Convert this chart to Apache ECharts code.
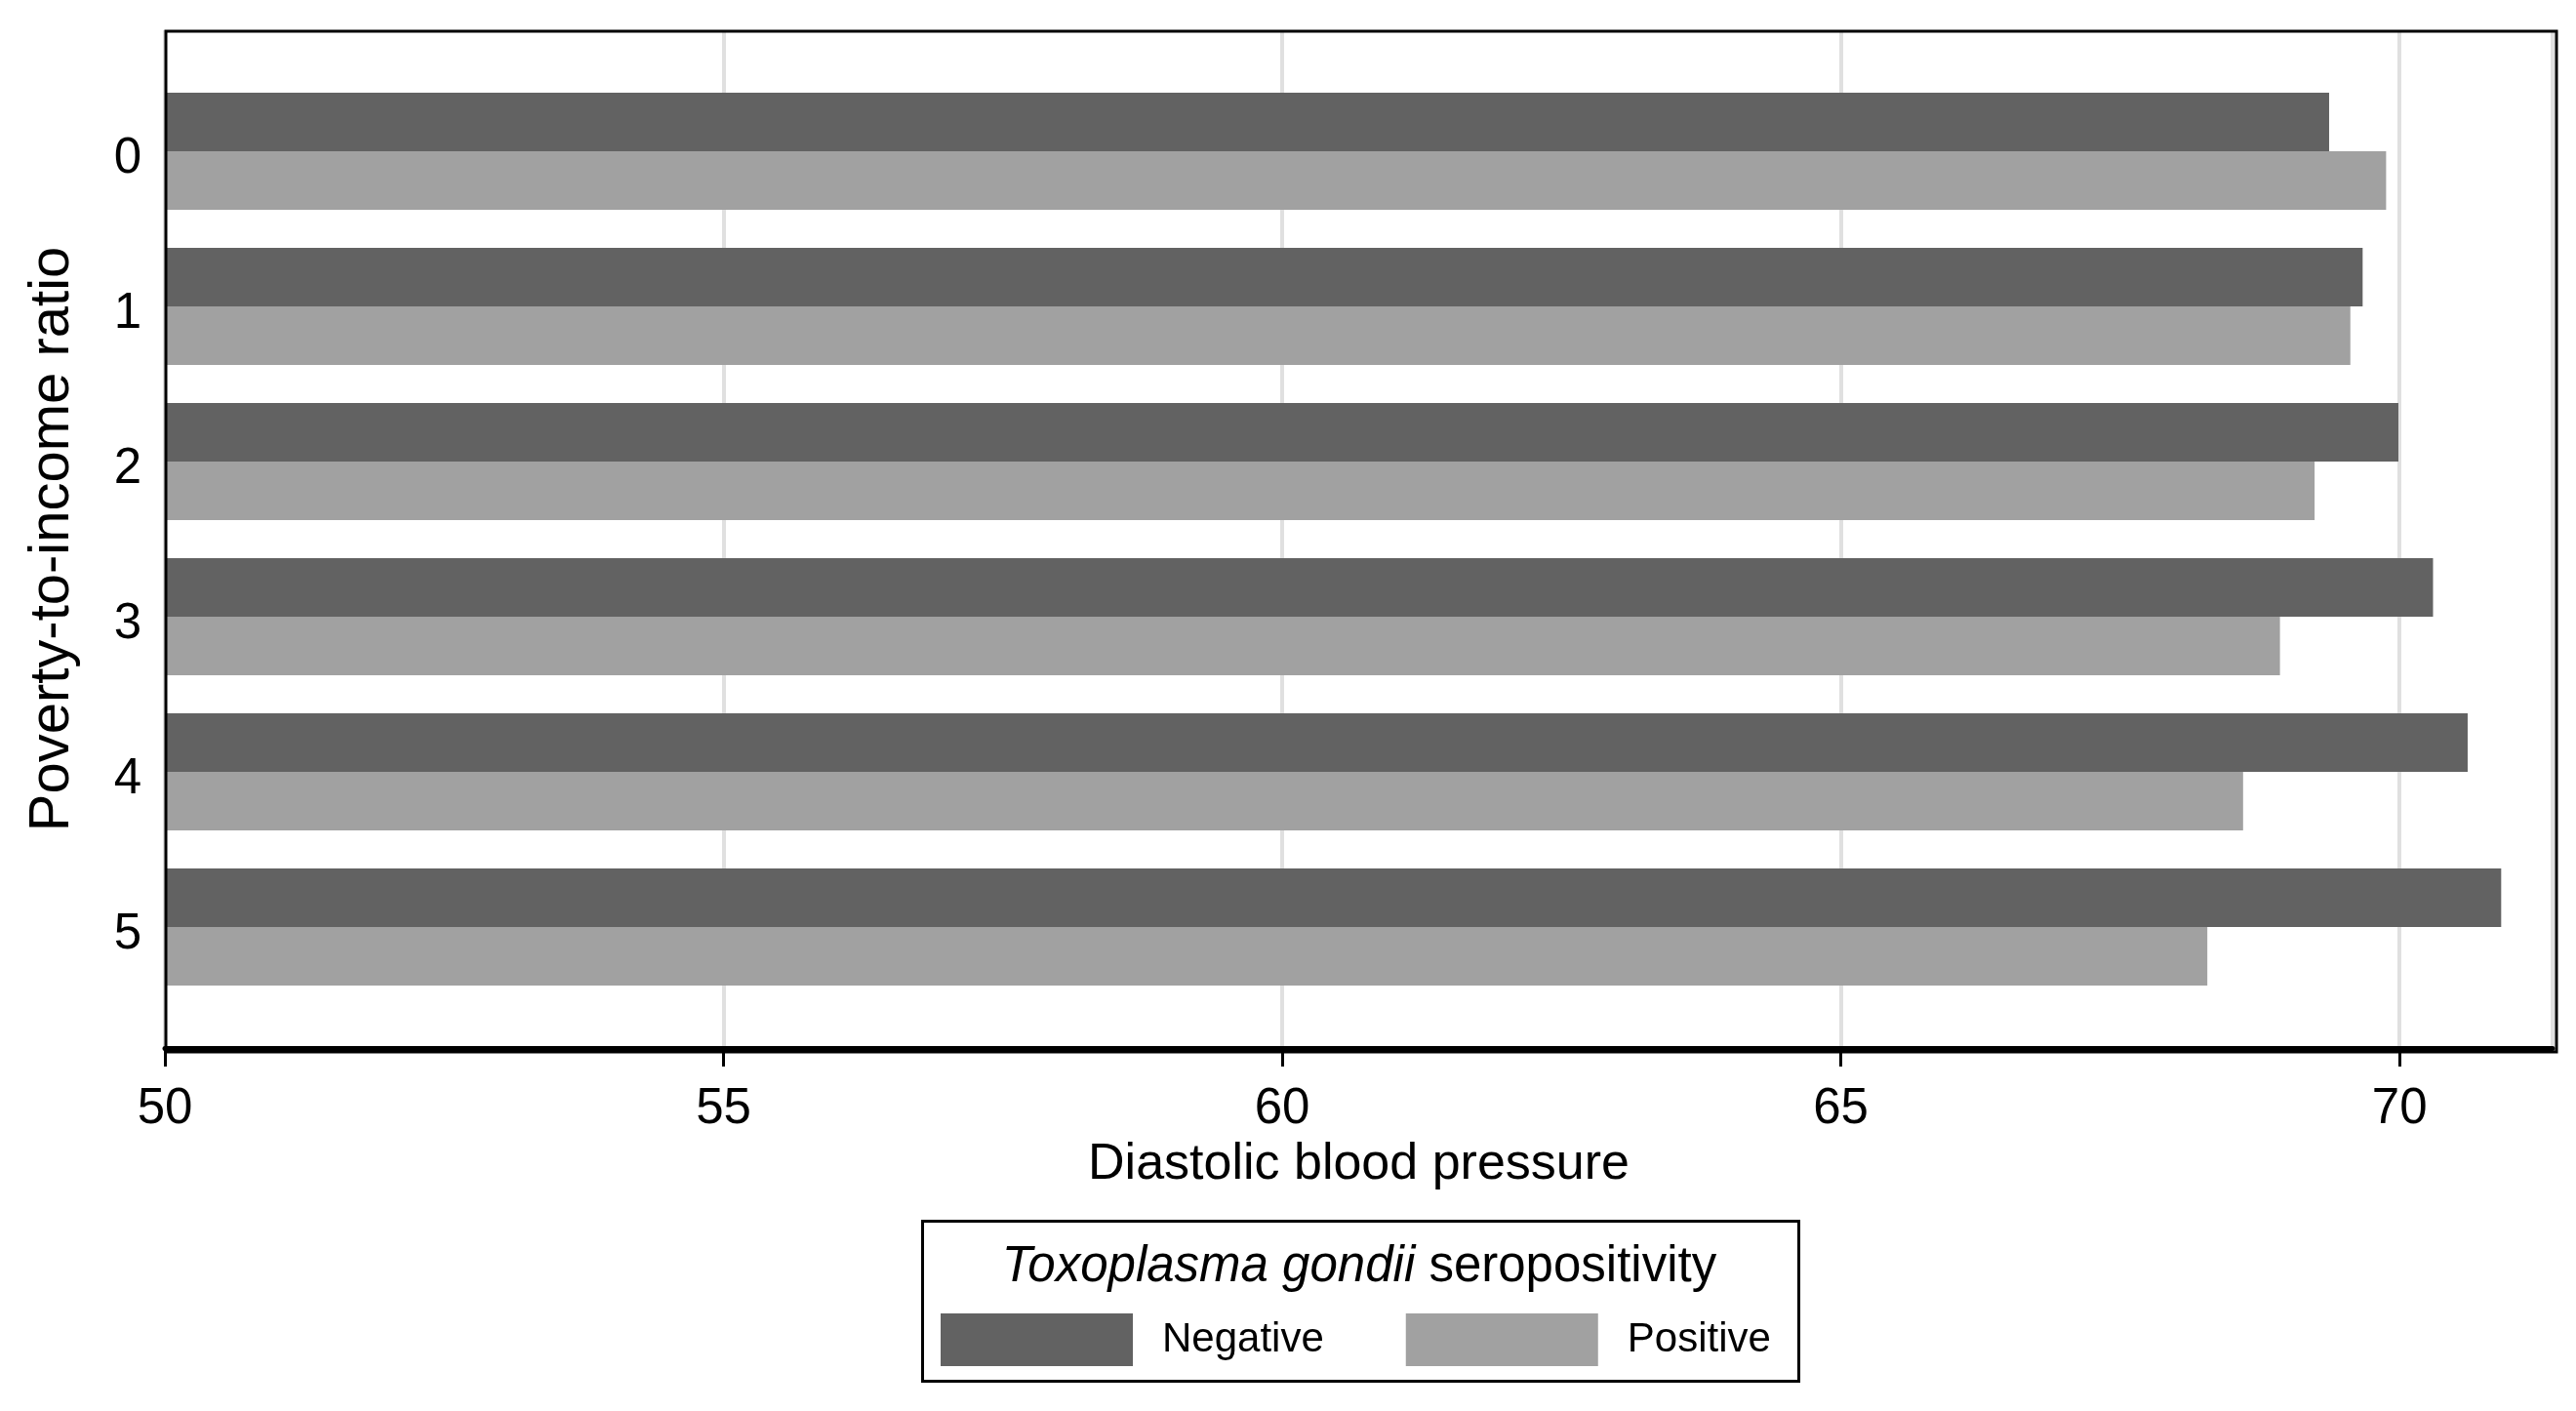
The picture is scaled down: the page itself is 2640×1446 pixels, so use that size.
<!DOCTYPE html>
<html>
<head>
<meta charset="utf-8">
<script src="https://cdn.jsdelivr.net/npm/echarts@6/dist/echarts.min.js"></script>
<style>
html,body{margin:0;padding:0;background:#fff;}
#chart{width:2640px;height:1446px;}
</style>
</head>
<body>
<div id="chart"></div>
<script>
const categories = ['0', '1', '2', '3', '4', '5'];
const seriesNames = ['Negative', 'Positive'];
const negativeValues = [69.37, 69.67, 69.99, 70.30, 70.61, 70.91];
const positiveValues = [69.88, 69.56, 69.24, 68.93, 68.60, 68.28];
const xMin = 50, xMax = 71.37, xStep = 5;
const xTitle = 'Diastolic blood pressure';
const yTitle = 'Poverty-to-income ratio';
const legendTitleItalic = 'Toxoplasma gondii';
const legendTitleRest = ' seropositivity';

const FONT = 'Liberation Sans, Arial, Helvetica, sans-serif';
const chart = echarts.init(document.getElementById('chart'));

const G = { left: 169, top: 31, right: 24, bottom: 372 };
const plotW = 2640 - G.left - G.right;
const plotH = 1446 - G.top - G.bottom;

const option = {
  backgroundColor: '#fff',
  animation: false,
  grid: [
    { left: G.left, right: G.right, top: G.top, bottom: G.bottom, show: false },
    { left: G.left, right: G.right, top: 75.5, bottom: 416.5 }
  ],
  xAxis: [
    {
      gridIndex: 0, type: 'value', min: xMin, max: xMax, interval: xStep,
      name: xTitle, nameLocation: 'middle', nameGap: 94,
      nameTextStyle: { fontSize: 52, fontFamily: FONT, color: '#000' },
      axisLine: { show: true, lineStyle: { color: '#000', width: 5 } },
      axisTick: { show: true, inside: false, length: 19, lineStyle: { color: '#000', width: 3 } },
      axisLabel: { fontSize: 51, fontFamily: FONT, color: '#000', margin: 37, showMaxLabel: false },
      splitLine: { show: true, lineStyle: { color: '#e0e0e0', width: 4 } }
    },
    {
      gridIndex: 1, type: 'value', min: xMin, max: xMax, show: false,
      splitLine: { show: false }
    }
  ],
  yAxis: [
    { gridIndex: 0, type: 'value', show: false, splitLine: { show: false } },
    {
      gridIndex: 1, type: 'category', data: categories, inverse: true,
      name: yTitle, nameLocation: 'middle', nameGap: 86,
      nameTextStyle: { fontSize: 58, fontFamily: FONT, color: '#000' },
      axisLine: { show: false }, axisTick: { show: false },
      axisLabel: {
        margin: 24,
        formatter: function (v) { return '{a|' + v + '}'; },
        rich: { a: { fontSize: 51, fontFamily: FONT, color: '#000', padding: [16, 0, 0, 0] } }
      },
      splitLine: { show: false }
    }
  ],
  legend: {
    data: seriesNames,
    left: 959, top: 1341,
    itemWidth: 197, itemHeight: 54, itemGap: 84,
    icon: 'rect',
    textStyle: { fontSize: 42, fontFamily: FONT, color: '#000', padding: [0, 0, 0, 25] },
    selectedMode: false
  },
  graphic: [
    {
      type: 'rect', left: G.left - 1.5, top: G.top - 1.5, z: 100, silent: true,
      shape: { width: plotW + 3, height: plotH + 3 },
      style: { fill: 'none', stroke: '#000', lineWidth: 3 }
    },
    {
      type: 'rect', left: 944, top: 1250, z: 0,
      shape: { width: 898, height: 164 },
      style: { fill: '#fff', stroke: '#000', lineWidth: 3 }
    },
    {
      type: 'text', x: 1393, y: 1299, z: 10,
      style: {
        text: '{it|' + legendTitleItalic + '}' + legendTitleRest,
        rich: { it: { fontStyle: 'italic', fontSize: 51, fontFamily: FONT, fill: '#000' } },
        fontSize: 51, fontFamily: FONT, fill: '#000',
        align: 'center', verticalAlign: 'middle'
      }
    }
  ],
  series: [
    {
      name: seriesNames[0], type: 'bar', xAxisIndex: 1, yAxisIndex: 1,
      data: negativeValues, barGap: '0%', barCategoryGap: '24.5%',
      itemStyle: { color: '#626262' }
    },
    {
      name: seriesNames[1], type: 'bar', xAxisIndex: 1, yAxisIndex: 1,
      data: positiveValues, barGap: '0%', barCategoryGap: '24.5%',
      itemStyle: { color: '#a1a1a1' }
    }
  ]
};
chart.setOption(option);
</script>
</body>
</html>
